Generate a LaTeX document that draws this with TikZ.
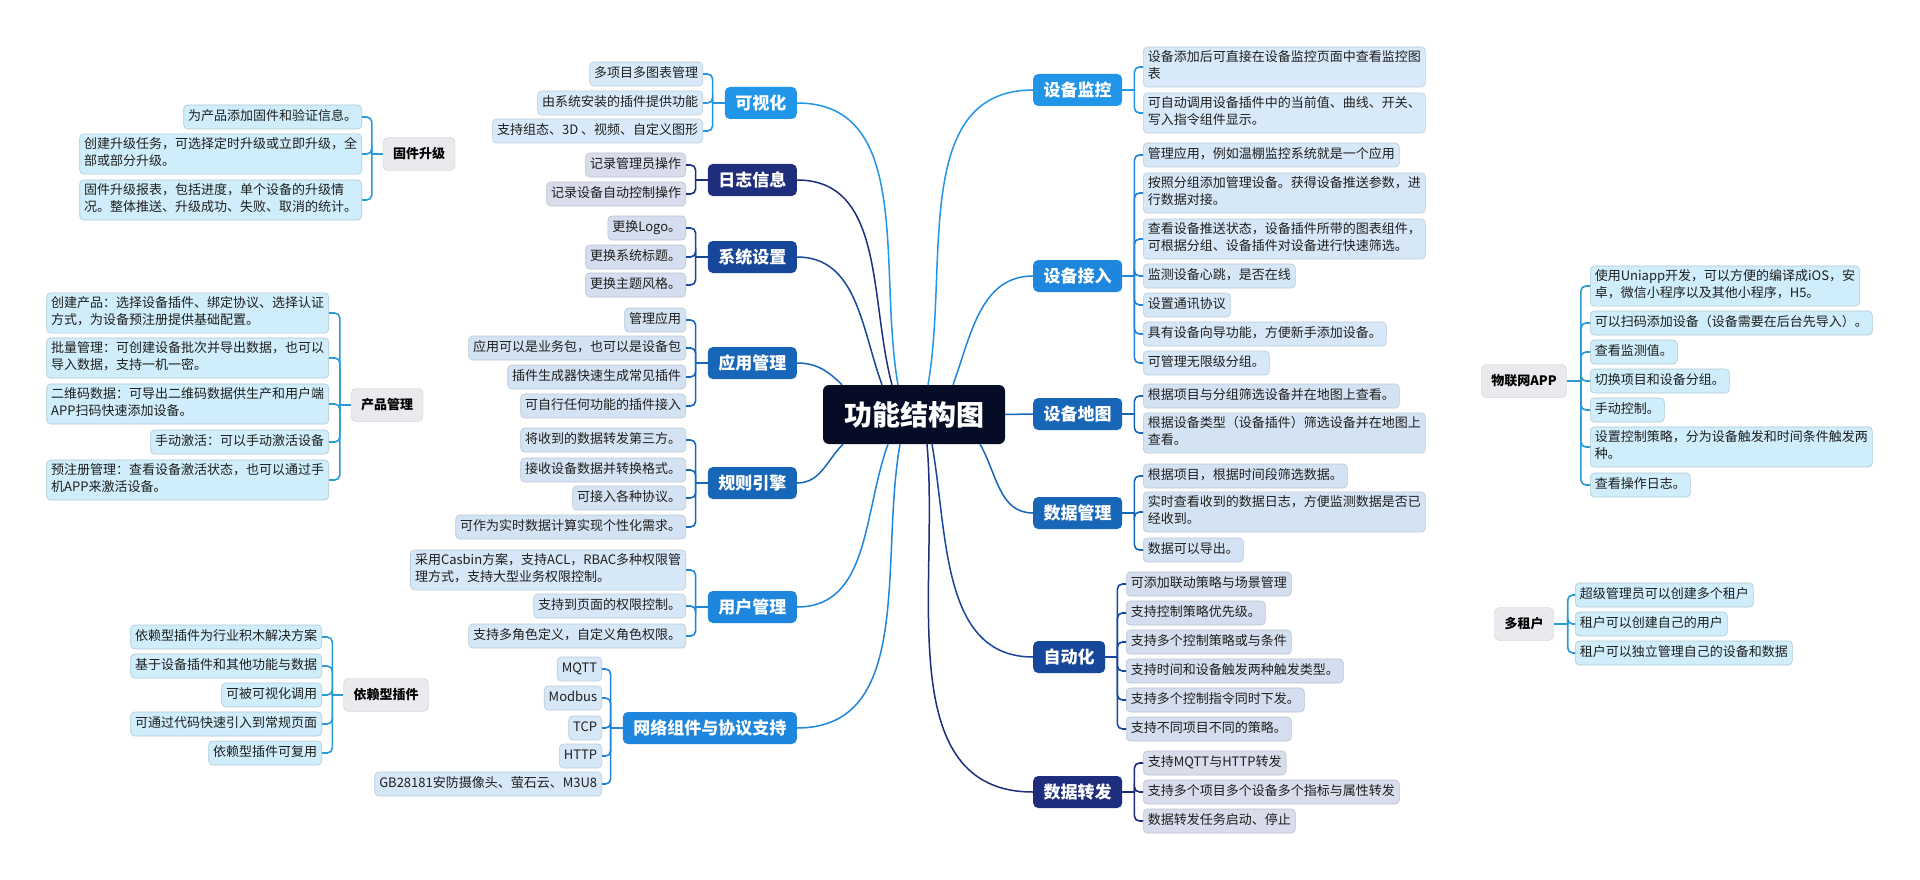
\documentclass[tikz,border=0pt]{standalone}
\usepackage{fontspec}
\setmainfont{Noto Sans CJK SC}
\definecolor{rootc}{HTML}{060B26}
\definecolor{bA}{HTML}{2196E8}
\definecolor{bB}{HTML}{1E86DD}
\definecolor{bC}{HTML}{1766B8}
\definecolor{bD}{HTML}{17479A}
\definecolor{bE}{HTML}{1F2E7C}
\definecolor{lA}{HTML}{D8EAF9}
\definecolor{lB}{HTML}{D6E7F7}
\definecolor{lC}{HTML}{D4E3F3}
\definecolor{lD}{HTML}{D5DEEE}
\definecolor{lE}{HTML}{D8DCEB}
\definecolor{tpf}{HTML}{E9E9EE}
\definecolor{tpl}{HTML}{CFEDFA}
\definecolor{tpc}{HTML}{2A9AD4}
\begin{document}
\begin{tikzpicture}[x=1pt,y=-1pt,
  leaf/.style={rounded corners=4pt, align=left, inner xsep=4.5pt, inner ysep=3.5pt,
    font=\fontsize{13}{17}\selectfont, text=black!88, line width=0.6pt,
    execute at begin node=\strut, execute at end node=\strut},
  lfA/.style={leaf, fill=lA, draw=lA!88!black},
  lfB/.style={leaf, fill=lB, draw=lB!88!black},
  lfC/.style={leaf, fill=lC, draw=lC!88!black},
  lfD/.style={leaf, fill=lD, draw=lD!88!black},
  lfE/.style={leaf, fill=lE, draw=lE!88!black},
  lfT/.style={leaf, fill=tpl, draw=tpl!85!black},
  main/.style={rounded corners=5pt, text=white, inner xsep=10.5pt, minimum height=32pt,
    font=\bfseries\fontsize{17}{20}\selectfont},
  topic/.style={rounded corners=5pt, fill=tpf, draw=tpf!88!black, inner xsep=10pt,
    minimum height=33pt, font=\bfseries\fontsize{13}{16}\selectfont},
  brk/.style={rounded corners=5pt, line width=1.6pt},
  cv/.style={line width=1.5pt}]
\fill[white] (0,0) rectangle (1920,880);

% centre
\node[rounded corners=6pt, fill=rootc, text=white, inner xsep=21pt, minimum height=59pt,
  font=\bfseries\fontsize{28}{32}\selectfont] (root) at (914,414.5) {功能结构图};

% left branches
\node[main, fill=bA, anchor=east] (viz) at (797,103) {可视化};
\node[main, fill=bE, anchor=east] (log) at (797,180) {日志信息};
\node[main, fill=bD, anchor=east] (sys) at (797,257) {系统设置};
\node[main, fill=bC, anchor=east] (app) at (797,363) {应用管理};
\node[main, fill=bC, anchor=east] (rule) at (797,483) {规则引擎};
\node[main, fill=bB, anchor=east] (user) at (797,607) {用户管理};
\node[main, fill=bB, anchor=east] (net) at (797,728) {网络组件与协议支持};

% right branches
\node[main, fill=bA, anchor=west] (mon) at (1033,90) {设备监控};
\node[main, fill=bB, anchor=west] (acc) at (1033,276) {设备接入};
\node[main, fill=bC, anchor=west] (map) at (1033,414) {设备地图};
\node[main, fill=bC, anchor=west] (dat) at (1033,513) {数据管理};
\node[main, fill=bD, anchor=west] (auto) at (1033,657) {自动化};
\node[main, fill=bE, anchor=west] (fwd) at (1033,792) {数据转发};

\draw[cv, bA] ([xshift=-16pt]root.north) to[out=100,in=0] (viz.east);
\draw[cv, bE] ([xshift=-22pt]root.north) to[out=105,in=0] (log.east);
\draw[cv, bD] ([xshift=-32pt]root.north) to[out=110,in=0] (sys.east);
\draw[cv, bC] ([xshift=-72pt]root.north) to[out=135,in=0] (app.east);
\draw[cv, bC] ([xshift=-71pt]root.south) to[out=225,in=0] (rule.east);
\draw[cv, bB] ([xshift=-26pt]root.south) to[out=250,in=0] (user.east);
\draw[cv, bB] ([xshift=-14pt]root.south) to[out=260,in=0] (net.east);
\draw[cv, bA] ([xshift=14pt]root.north) to[out=80,in=180] (mon.west);
\draw[cv, bB] ([xshift=39pt]root.north) to[out=70,in=180] (acc.west);
\draw[cv, bC] (root.east) -- (map.west);
\draw[cv, bC] ([xshift=66pt]root.south) to[out=-60,in=180] (dat.west);
\draw[cv, bD] ([xshift=18pt]root.south) to[out=-80,in=180] (auto.west);
\draw[cv, bE] ([xshift=13pt]root.south) to[out=-85,in=180] (fwd.west);

% leaves, left
\foreach \y/\t [count=\i] in {74/多项目多图表管理, 103/由系统安装的插件提供功能,
    131/支持组态、3D 、视频、自定义图形}
  \node[lfA, anchor=east] (viz\i) at (703,\y) {\t};
\foreach \y/\t [count=\i] in {165/记录管理员操作, 194/记录设备自动控制操作}
  \node[lfE, anchor=east] (log\i) at (686,\y) {\t};
\foreach \y/\t [count=\i] in {228/更换Logo。, 257/更换系统标题。, 285/更换主题风格。}
  \node[lfD, anchor=east] (sys\i) at (686,\y) {\t};
\foreach \y/\t [count=\i] in {320/管理应用, 348/应用可以是业务包，也可以是设备包,
    377/插件生成器快速生成常见插件, 406/可自行任何功能的插件接入}
  \node[lfC, anchor=east] (app\i) at (686,\y) {\t};
\foreach \y/\t [count=\i] in {440/将收到的数据转发第三方。, 470/接收设备数据并转换格式。,
    498/可接入各种协议。, 527/可作为实时数据计算实现个性化需求。}
  \node[lfC, anchor=east] (rule\i) at (686,\y) {\t};
\foreach \y/\t [count=\i] in {570/采用Casbin方案，支持ACL，RBAC多种权限管\\理方式，支持大型业务权限控制。,
    606/支持到页面的权限控制。, 636/支持多角色定义，自定义角色权限。}
  \node[lfB, anchor=east] (user\i) at (686,\y) {\t};
\foreach \y/\t [count=\i] in {669/MQTT, 698/Modbus, 728/TCP, 756/HTTP,
    784/GB28181安防摄像头、萤石云、M3U8}
  \node[lfB, anchor=east] (net\i) at (602,\y) {\t};

% leaves, right
\foreach \y/\t [count=\i] in {67/设备添加后可直接在设备监控页面中查看监控图\\表,
    113/可自动调用设备插件中的当前值、曲线、开关、\\写入指令组件显示。}
  \node[lfA, anchor=west] (mon\i) at (1143,\y) {\t};
\foreach \y/\t [count=\i] in {155/管理应用，例如温棚监控系统就是一个应用,
    193/按照分组添加管理设备。获得设备推送参数，进\\行数据对接。,
    239/查看设备推送状态，设备插件所带的图表组件，\\可根据分组、设备插件对设备进行快速筛选。,
    276/监测设备心跳，是否在线, 305/设置通讯协议,
    334/具有设备向导功能，方便新手添加设备。, 363/可管理无限级分组。}
  \node[lfB, anchor=west] (acc\i) at (1143,\y) {\t};
\foreach \y/\t [count=\i] in {396/根据项目与分组筛选设备并在地图上查看。,
    433/根据设备类型（设备插件）筛选设备并在地图上\\查看。}
  \node[lfC, anchor=west] (map\i) at (1143,\y) {\t};
\foreach \y/\t [count=\i] in {476/根据项目，根据时间段筛选数据。,
    512/实时查看收到的数据日志，方便监测数据是否已\\经收到。, 550/数据可以导出。}
  \node[lfC, anchor=west] (dat\i) at (1143,\y) {\t};
\foreach \y/\t [count=\i] in {584/可添加联动策略与场景管理, 613/支持控制策略优先级。,
    642/支持多个控制策略或与条件, 671/支持时间和设备触发两种触发类型。,
    700/支持多个控制指令同时下发。, 729/支持不同项目不同的策略。}
  \node[lfD, anchor=west] (auto\i) at (1126,\y) {\t};
\foreach \y/\t [count=\i] in {763/支持MQTT与HTTP转发, 792/支持多个项目多个设备多个指标与属性转发,
    821/数据转发任务启动、停止}
  \node[lfE, anchor=west] (fwd\i) at (1143,\y) {\t};

% brackets
\foreach \b/\c/\n in {viz/bA/3, log/bE/2, sys/bD/3, app/bC/4, rule/bC/4, user/bB/3, net/bB/5}{
  \draw[brk, \c] (\b.west) -- ++(-12,0) coordinate (\b-k);
  \foreach \i in {1,...,\n} \draw[brk, \c] (\b-k) |- (\b\i.east);
}
\foreach \b/\c/\n in {mon/bA/2, acc/bB/7, map/bC/2, dat/bC/3, auto/bD/6, fwd/bE/3}{
  \draw[brk, \c] (\b.east) -- ++(12,0) coordinate (\b-k);
  \foreach \i in {1,...,\n} \draw[brk, \c] (\b-k) |- (\b\i.west);
}

% floating topics
\node[topic] (fw) at (419,154) {固件升级};
\foreach \y/\t [count=\i] in {117/为产品添加固件和验证信息。,
    154/创建升级任务，可选择定时升级或立即升级，全\\部或部分升级。,
    200/固件升级报表，包括进度，单个设备的升级情\\况。整体推送、升级成功、失败、取消的统计。}
  \node[lfT, anchor=east] (fw\i) at (362,\y) {\t};
\node[topic] (prod) at (387,405) {产品管理};
\foreach \y/\t [count=\i] in {313/创建产品：选择设备插件、绑定协议、选择认证\\方式，为设备预注册提供基础配置。,
    358/批量管理：可创建设备批次并导出数据，也可以\\导入数据，支持一机一密。,
    404/二维码数据：可导出二维码数据供生产和用户端\\APP扫码快速添加设备。,
    442/手动激活：可以手动激活设备,
    480/预注册管理：查看设备激活状态，也可以通过手\\机APP来激活设备。}
  \node[lfT, anchor=east] (prod\i) at (329,\y) {\t};
\node[topic] (dep) at (386,695) {依赖型插件};
\foreach \y/\t [count=\i] in {637/依赖型插件为行业积木解决方案, 666/基于设备插件和其他功能与数据,
    695/可被可视化调用, 724/可通过代码快速引入到常规页面, 753/依赖型插件可复用}
  \node[lfT, anchor=east] (dep\i) at (322,\y) {\t};
\node[topic] (iot) at (1524,381) {物联网APP};
\foreach \y/\t [count=\i] in {286/使用Uniapp开发，可以方便的编译成iOS，安\\卓，微信小程序以及其他小程序，H5。,
    323/可以扫码添加设备（设备需要在后台先导入）。, 352/查看监测值。, 381/切换项目和设备分组。,
    410/手动控制。, 447/设置控制策略，分为设备触发和时间条件触发两\\种。, 485/查看操作日志。}
  \node[lfT, anchor=west] (iot\i) at (1590,\y) {\t};
\node[topic] (ten) at (1524,624) {多租户};
\foreach \y/\t [count=\i] in {595/超级管理员可以创建多个租户, 624/租户可以创建自己的用户,
    653/租户可以独立管理自己的设备和数据}
  \node[lfT, anchor=west] (ten\i) at (1575,\y) {\t};

\foreach \b/\n in {fw/3, prod/5, dep/5}{
  \draw[brk, tpc] (\b.west) -- ++(-11,0) coordinate (\b-k);
  \foreach \i in {1,...,\n} \draw[brk, tpc] (\b-k) |- (\b\i.east);
}
\foreach \b/\n in {iot/7, ten/3}{
  \draw[brk, tpc] (\b.east) -- ++(14,0) coordinate (\b-k);
  \foreach \i in {1,...,\n} \draw[brk, tpc] (\b-k) |- (\b\i.west);
}
\end{tikzpicture}
\end{document}
